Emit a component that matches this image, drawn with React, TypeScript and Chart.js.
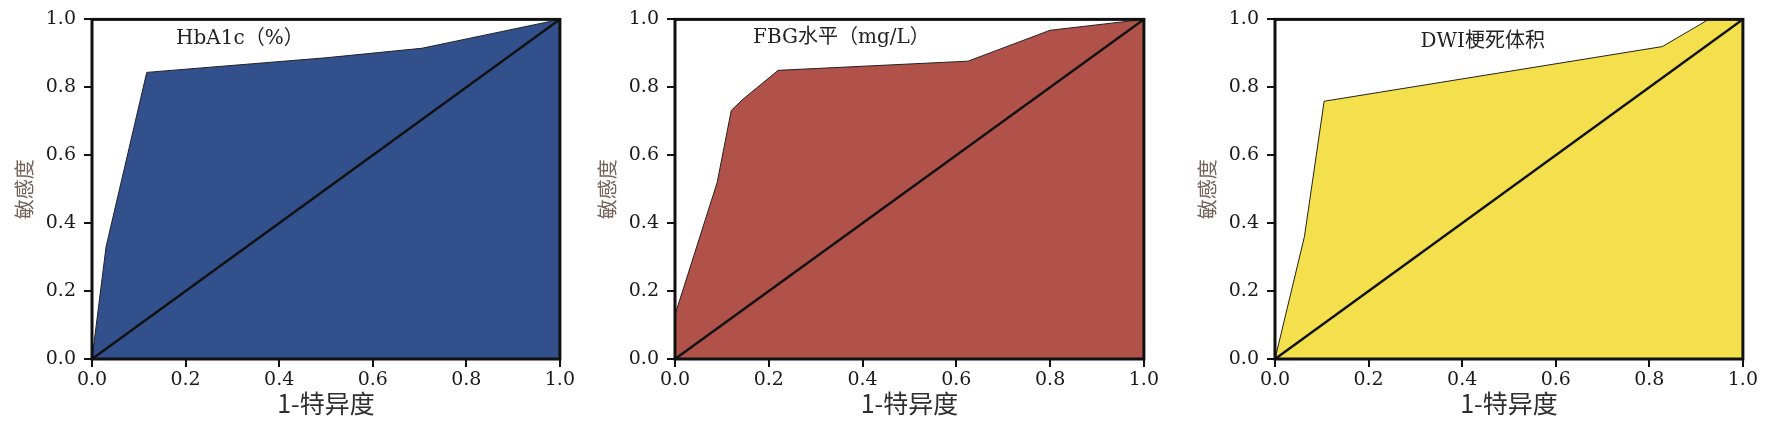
import React, { useEffect, useRef } from 'react';
import { Chart, registerables } from 'chart.js';

Chart.register(...registerables);

// ---- data ----
const tickValues = [0, 0.2, 0.4, 0.6, 0.8, 1.0];
const tickLabels = ['0.0', '0.2', '0.4', '0.6', '0.8', '1.0'];

const hba1cFpr = [0, 0.03, 0.117, 0.5, 0.705, 1];
const hba1cTpr = [0, 0.33, 0.844, 0.887, 0.915, 1];

const fbgFpr = [0, 0, 0.09, 0.12, 0.145, 0.22, 0.625, 0.8, 1];
const fbgTpr = [0, 0.13, 0.52, 0.732, 0.765, 0.85, 0.877, 0.968, 1];

const dwiFpr = [0, 0.063, 0.105, 0.828, 0.927, 1];
const dwiTpr = [0, 0.361, 0.759, 0.92, 1, 1];

const refFpr = [0, 1];
const refTpr = [0, 1];

const panelTitles = ['HbA1c（%）', 'FBG水平（mg/L）', 'DWI梗死体积'];
const xTitle = '1-特异度';
const yTitle = '敏感度';

// ---- style ----
const LATIN = '"DejaVu Serif", "Noto Sans CJK SC", serif';
const CJK = '"Noto Sans CJK SC", "DejaVu Serif", serif';

type PanelProps = {
  left: number;
  width: number;
  fpr: number[];
  tpr: number[];
  color: string;
  title: string;
  titleAt: { x: number; y: number };
};

const toPts = (xs: number[], ys: number[]) => xs.map((x, i) => ({ x, y: ys[i] }));

function Panel({ left, width, fpr, tpr, color, title, titleAt }: PanelProps) {
  const ref = useRef<HTMLCanvasElement | null>(null);
  useEffect(() => {
    if (!ref.current) return;
    const framePlugin = {
      id: 'frameAndTitle',
      afterDatasetsDraw(chart: any) {
        const { ctx, chartArea, scales } = chart;
        ctx.save();
        ctx.strokeStyle = '#111';
        ctx.lineWidth = 3;
        ctx.strokeRect(chartArea.left, chartArea.top, chartArea.right - chartArea.left, chartArea.bottom - chartArea.top);
        ctx.fillStyle = '#222';
        ctx.font = `20px ${LATIN}`;
        ctx.textAlign = 'center';
        ctx.textBaseline = 'middle';
        ctx.fillText(title, scales.x.getPixelForValue(titleAt.x), scales.y.getPixelForValue(titleAt.y));
        ctx.restore();
      },
    };
    const tickCommon = {
      font: { family: LATIN, size: 19 },
      color: '#1a1a1a',
      autoSkip: false,
      maxRotation: 0,
      callback: (v: number) => {
        const i = tickValues.findIndex((t) => Math.abs(t - v) < 1e-6);
        return i >= 0 ? tickLabels[i] : '';
      },
    };
    const gridCommon = {
      display: true,
      drawOnChartArea: false,
      drawTicks: true,
      tickLength: 8,
      color: '#111',
      lineWidth: 2,
    };
    const chart = new Chart(ref.current, {
      type: 'scatter',
      data: {
        datasets: [
          {
            data: toPts(refFpr, refTpr),
            showLine: true,
            borderColor: '#111',
            borderWidth: 2.5,
            pointRadius: 0,
            fill: false,
            order: 0,
          },
          {
            data: toPts(fpr, tpr),
            showLine: true,
            borderColor: '#222',
            borderWidth: 1,
            backgroundColor: color,
            pointRadius: 0,
            fill: 'origin',
            order: 1,
          },
        ],
      },
      options: {
        animation: false,
        responsive: true,
        maintainAspectRatio: false,
        layout: { padding: { top: 14, right: 16, bottom: 0, left: 0 } },
        plugins: { legend: { display: false }, tooltip: { enabled: false } },
        scales: {
          x: {
            type: 'linear',
            min: 0,
            max: 1,
            afterBuildTicks: (s: any) => {
              s.ticks = tickValues.map((value) => ({ value }));
            },
            afterFit: (s: any) => {
              s.height = 65;
            },
            ticks: { ...tickCommon, padding: 2 },
            grid: gridCommon,
            border: { display: false },
            title: {
              display: true,
              text: xTitle,
              color: '#2e2e2e',
              font: { family: CJK, size: 25 },
              padding: { top: 0, bottom: 6 },
            },
          },
          y: {
            type: 'linear',
            min: 0,
            max: 1,
            afterBuildTicks: (s: any) => {
              s.ticks = tickValues.map((value) => ({ value }));
            },
            afterFit: (s: any) => {
              s.width = 92;
            },
            ticks: { ...tickCommon, padding: 8 },
            grid: gridCommon,
            border: { display: false },
            title: {
              display: true,
              text: yTitle,
              color: '#74625a',
              font: { family: CJK, size: 20 },
              padding: { top: 12, bottom: 0 },
            },
          },
        },
      },
      plugins: [framePlugin],
    } as any);
    return () => chart.destroy();
  }, []);
  return (
    <div style={{ position: 'absolute', left, top: 0, width, height: 424 }}>
      <canvas ref={ref} />
    </div>
  );
}

export default function App() {
  return (
    <div style={{ position: 'absolute', left: 0, top: 0, width: 1772, height: 424, background: '#fff', overflow: 'hidden' }}>
      <Panel left={0} width={577} fpr={hba1cFpr} tpr={hba1cTpr} color="#31508C" title={panelTitles[0]} titleAt={{ x: 0.316, y: 0.942 }} />
      <Panel left={583} width={578} fpr={fbgFpr} tpr={fbgTpr} color="#B0524A" title={panelTitles[1]} titleAt={{ x: 0.355, y: 0.945 }} />
      <Panel left={1183} width={577} fpr={dwiFpr} tpr={dwiTpr} color="#F4E04C" title={panelTitles[2]} titleAt={{ x: 0.444, y: 0.935 }} />
    </div>
  );
}
